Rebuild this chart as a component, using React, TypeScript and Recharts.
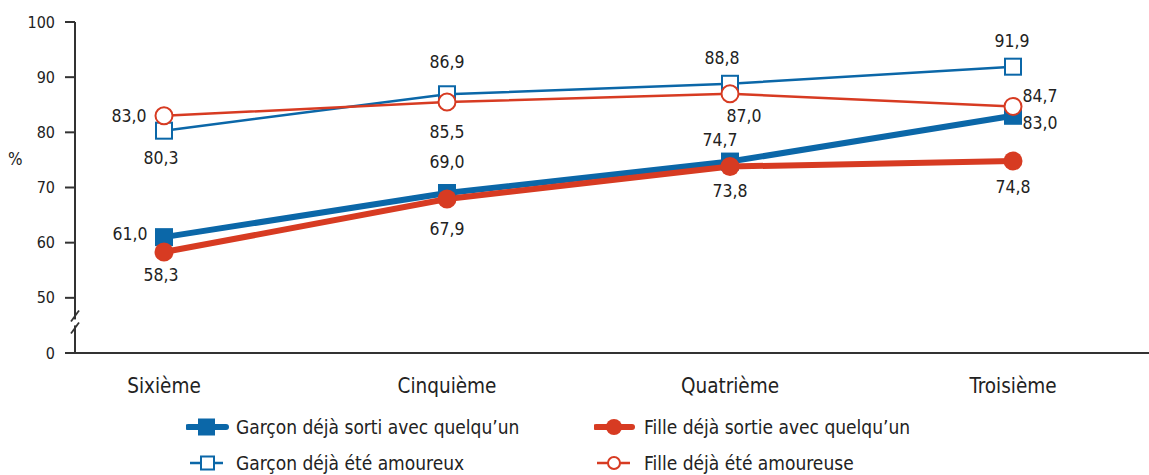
import React from 'react';
import { LineChart, Line, XAxis, YAxis, LabelList } from 'recharts';

const categories = ['Sixième', 'Cinquième', 'Quatrième', 'Troisième'];
const garconSorti = [61.0, 69.0, 74.7, 83.0];
const garconAmoureux = [80.3, 86.9, 88.8, 91.9];
const filleSortie = [58.3, 67.9, 73.8, 74.8];
const filleAmoureuse = [83.0, 85.5, 87.0, 84.7];

// 40 is drawn as "0" (broken axis), 45 holds the break mark
const yTicks = [40, 45, 50, 60, 70, 80, 90, 100];
const yTickLabels: Record<number, string> = { 40: '0', 50: '50', 60: '60', 70: '70', 80: '80', 90: '90', 100: '100' };

const seriesNames = [
  'Garçon déjà sorti avec quelqu’un',
  'Garçon déjà été amoureux',
  'Fille déjà sortie avec quelqu’un',
  'Fille déjà été amoureuse',
];

// label placement (dx, dy) relative to each point
const garconSortiLabelPos = [[-34, -3], [0, -31], [-10, -22], [27, 7]];
const garconAmoureuxLabelPos = [[-3, 27], [0, -32], [-8, -26], [-1, -26]];
const filleSortieLabelPos = [[-3, 23], [0, 30], [0, 24], [0, 26]];
const filleAmoureuseLabelPos = [[-35, 0], [0, 30], [14, 22], [27, -10]];

const BLUE = '#0b67a8';
const RED = '#d73b22';
const TEXT = '#222';
const AXIS = '#333';
const FONT = '"Liberation Sans Narrow", "DejaVu Sans Condensed", "Roboto Condensed", "Liberation Sans", sans-serif';

const data = categories.map((name, i) => ({
  name,
  garconSorti: garconSorti[i],
  garconAmoureux: garconAmoureux[i],
  filleSortie: filleSortie[i],
  filleAmoureuse: filleAmoureuse[i],
}));

const fmt = (v: number) => v.toFixed(1).replace('.', ',');

const makeLabel = (pos: number[][]) => (props: any) => {
  const { x, y, value, index } = props;
  const [dx, dy] = pos[index] || [0, 0];
  return (
    <text
      x={x + dx}
      y={y + dy}
      textAnchor="middle"
      dominantBaseline="central"
      fill={TEXT}
      fontFamily={FONT}
      fontStretch="condensed"
      fontSize={17.5}
    >
      {fmt(Number(value))}
    </text>
  );
};

const FilledSquare = (size: number, color: string) => (props: any) => {
  const { cx, cy, index } = props;
  return <rect key={`fs-${index}`} x={cx - size / 2} y={cy - size / 2} width={size} height={size} fill={color} />;
};
const HollowSquare = (size: number, color: string) => (props: any) => {
  const { cx, cy, index } = props;
  return (
    <rect key={`hs-${index}`} x={cx - size / 2} y={cy - size / 2} width={size} height={size} fill="#fff" stroke={color} strokeWidth={2} />
  );
};
const FilledCircle = (r: number, color: string) => (props: any) => {
  const { cx, cy, index } = props;
  return <circle key={`fc-${index}`} cx={cx} cy={cy} r={r} fill={color} />;
};
const HollowCircle = (r: number, color: string) => (props: any) => {
  const { cx, cy, index } = props;
  return <circle key={`hc-${index}`} cx={cx} cy={cy} r={r} fill="#fff" stroke={color} strokeWidth={2} />;
};

const YTick = (props: any) => {
  const { x, y, payload } = props;
  const v = payload.value;
  if (v === 45) {
    const yc = y - 3;
    return (
      <g>
        <rect x={x - 6} y={yc - 3} width={12} height={6} fill="#fff" />
        <line x1={x - 4} y1={yc - 1} x2={x + 4} y2={yc - 12} stroke={AXIS} strokeWidth={1.8} />
        <line x1={x - 4} y1={yc + 11} x2={x + 4} y2={yc} stroke={AXIS} strokeWidth={1.8} />
      </g>
    );
  }
  return (
    <g>
      <line x1={x - 10} y1={y} x2={x} y2={y} stroke={AXIS} strokeWidth={2} />
      <text x={x - 20} y={y} textAnchor="end" dominantBaseline="central" fill={TEXT} fontFamily={FONT} fontStretch="condensed" fontSize={16}>
        {yTickLabels[v]}
      </text>
    </g>
  );
};

const XTick = (props: any) => {
  const { x, y, payload } = props;
  return (
    <text x={x} y={y + 40} textAnchor="middle" fill={TEXT} fontFamily={FONT} fontStretch="condensed" fontSize={20.5}>
      {payload.value}
    </text>
  );
};

const LegendItem = ({ icon, label }: { icon: React.ReactNode; label: string }) => (
  <div style={{ display: 'flex', alignItems: 'center', height: 36 }}>
    <svg width={50} height={24} style={{ display: 'block' }}>{icon}</svg>
    <span style={{ marginLeft: 0, fontSize: 19, color: TEXT, fontFamily: FONT, fontStretch: 'condensed', whiteSpace: 'nowrap' }}>{label}</span>
  </div>
);

export default function App() {
  return (
    <div style={{ position: 'absolute', left: 0, top: 0, width: 1149, height: 475, background: '#fff' }}>
      <LineChart width={1149} height={475} data={data} margin={{ top: 22, right: 0, bottom: 72, left: 0 }}>
        <XAxis
          dataKey="name"
          padding={{ left: 89, right: 136 }}
          axisLine={{ stroke: AXIS, strokeWidth: 2 }}
          tickLine={false}
          tickSize={0}
          tickMargin={0}
          height={50}
          tick={<XTick />}
          interval={0}
        />
        <YAxis
          type="number"
          domain={[40, 100]}
          ticks={yTicks}
          width={75}
          axisLine={{ stroke: AXIS, strokeWidth: 2 }}
          tickLine={false}
          tickSize={0}
          tickMargin={0}
          tick={<YTick />}
          interval={0}
        />
        <Line
          dataKey="garconSorti"
          name={seriesNames[0]}
          stroke={BLUE}
          strokeWidth={6}
          isAnimationActive={false}
          dot={FilledSquare(18, BLUE)}
        >
          <LabelList dataKey="garconSorti" content={makeLabel(garconSortiLabelPos)} />
        </Line>
        <Line
          dataKey="garconAmoureux"
          name={seriesNames[1]}
          stroke={BLUE}
          strokeWidth={2.5}
          isAnimationActive={false}
          dot={HollowSquare(16, BLUE)}
        >
          <LabelList dataKey="garconAmoureux" content={makeLabel(garconAmoureuxLabelPos)} />
        </Line>
        <Line
          dataKey="filleSortie"
          name={seriesNames[2]}
          stroke={RED}
          strokeWidth={6}
          isAnimationActive={false}
          dot={FilledCircle(9.5, RED)}
        >
          <LabelList dataKey="filleSortie" content={makeLabel(filleSortieLabelPos)} />
        </Line>
        <Line
          dataKey="filleAmoureuse"
          name={seriesNames[3]}
          stroke={RED}
          strokeWidth={2.5}
          isAnimationActive={false}
          dot={HollowCircle(8.5, RED)}
        >
          <LabelList dataKey="filleAmoureuse" content={makeLabel(filleAmoureuseLabelPos)} />
        </Line>
      </LineChart>

      <div style={{ position: 'absolute', left: 8, top: 149, fontSize: 17, color: TEXT, fontFamily: FONT, fontStretch: 'condensed' }}>%</div>

      <div style={{ position: 'absolute', left: 186, top: 409 }}>
        <LegendItem
          label={seriesNames[0]}
          icon={
            <g>
              <line x1={2} y1={12} x2={40} y2={12} stroke={BLUE} strokeWidth={6} strokeLinecap="round" />
              <rect x={12} y={3.5} width={17} height={17} fill={BLUE} />
            </g>
          }
        />
        <LegendItem
          label={seriesNames[1]}
          icon={
            <g>
              <line x1={4} y1={12} x2={37} y2={12} stroke={BLUE} strokeWidth={2.5} />
              <rect x={15} y={5.5} width={13} height={13} fill="#fff" stroke={BLUE} strokeWidth={2} />
            </g>
          }
        />
      </div>
      <div style={{ position: 'absolute', left: 594, top: 409 }}>
        <LegendItem
          label={seriesNames[2]}
          icon={
            <g>
              <line x1={2} y1={12} x2={38} y2={12} stroke={RED} strokeWidth={6} strokeLinecap="round" />
              <circle cx={20} cy={12} r={8} fill={RED} />
            </g>
          }
        />
        <LegendItem
          label={seriesNames[3]}
          icon={
            <g>
              <line x1={3} y1={12} x2={36} y2={12} stroke={RED} strokeWidth={2.5} />
              <circle cx={20} cy={12} r={6} fill="#fff" stroke={RED} strokeWidth={2} />
            </g>
          }
        />
      </div>
    </div>
  );
}
